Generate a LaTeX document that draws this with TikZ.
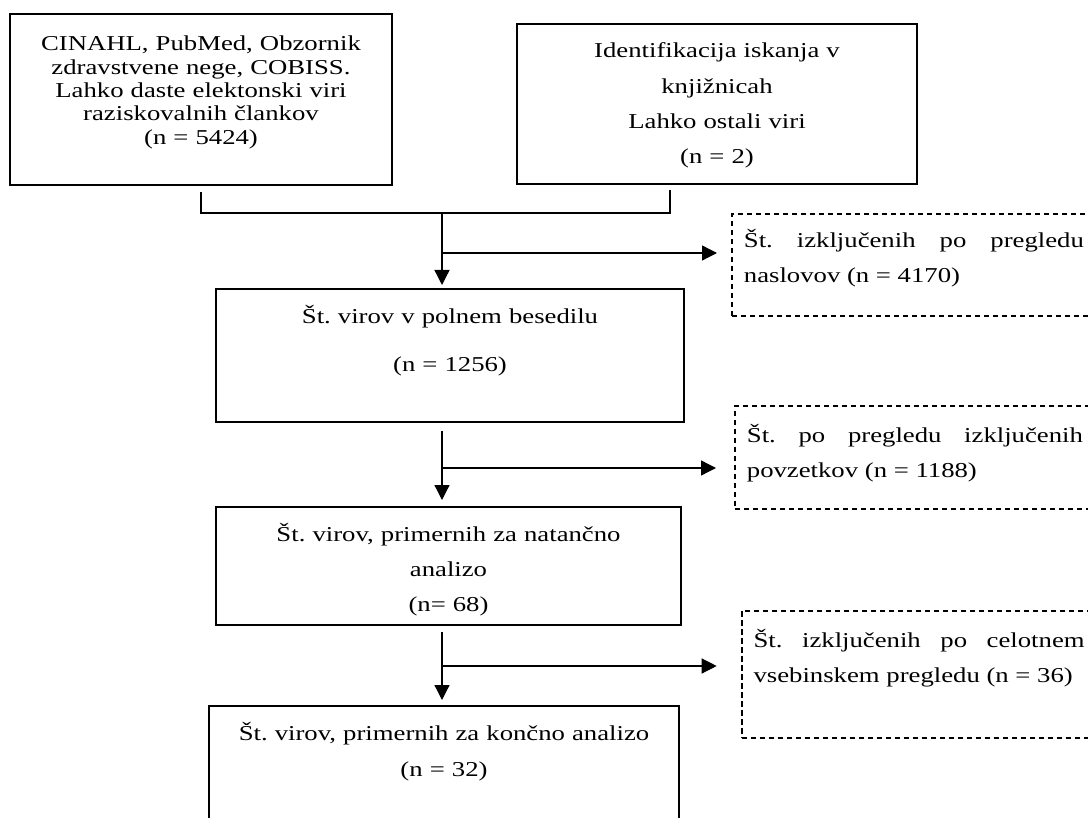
\documentclass[tikz,border=0pt]{standalone}
\usepackage{fontspec}
\setmainfont{Liberation Serif}[FakeStretch=1.26]
\usetikzlibrary{arrows.meta}
\frenchspacing

\begin{document}
\begin{tikzpicture}[
                x=0.5pt, y=-0.5pt,
                okvir/.style={draw, line width=1pt, anchor=north, inner sep=0pt, align=center},
                izklj/.style={draw, line width=0.9pt, dash pattern=on 2.7pt off 1.8pt,
                    anchor=north west, inner xsep=6pt, inner ysep=0pt, align=justify,
                    font={\fontsize{10.6pt}{17.5pt}\selectfont\frenchspacing\tolerance=10000 \hyphenpenalty=10000 }},
                vez/.style={line width=0.65pt},
                tok/.style={-{Triangle[length=7.5pt,width=7.5pt]}, line width=0.65pt},
                font=\fontsize{10.6pt}{17.5pt}\selectfont
            ]
            \useasboundingbox (0,0) rectangle (1088,818);
            \clip (0,0) rectangle (1088,818);

            % viri
            \node[okvir, text width=191pt, text height=18.5pt, text depth=67pt,
                font=\fontsize{10.6pt}{11.65pt}\selectfont] (baze) at (201,13)
                {CINAHL, PubMed, Obzornik\\ zdravstvene nege, COBISS.\\ Lahko daste elektonski viri\\ raziskovalnih člankov\\ (n = 5424)};
            \node[okvir, text width=200pt, text height=17pt, text depth=63pt,
                font=\fontsize{10.6pt}{17.65pt}\selectfont] (knjiz) at (717,23)
                {Identifikacija iskanja v\\ knjižnicah\\ Lahko ostali viri\\ (n = 2)};

            % koraki pregleda
            \node[okvir, text width=234pt, text height=17.35pt, text depth=49.15pt,
                font=\fontsize{10.6pt}{24pt}\selectfont] (polno) at (450,288)
                {Št. virov v polnem besedilu\\ (n = 1256)};
            \node[okvir, text width=232.5pt, text height=17pt, text depth=42pt] (natancno) at (448.5,506)
                {Št. virov, primernih za natančno\\ analizo\\ (n= 68)};
            \node[okvir, text width=235pt, text height=17pt, text depth=100pt,
                font=\fontsize{10.6pt}{18pt}\selectfont] (koncno) at (444,705)
                {Št. virov, primernih za končno analizo\\ (n = 32)};

            % izključeni
            \node[izklj, text width=170pt, text height=17pt, text depth=34pt] (izkl1) at (731,213)
                {Št. izključenih po pregledu\linebreak naslovov (n = 4170)};
            \node[izklj, text width=168pt, text height=18.35pt, text depth=33.15pt] (izkl2) at (734,405)
                {Št. po pregledu izključenih\linebreak povzetkov (n = 1188)};
            \node[izklj, text width=165.5pt, text height=18.35pt, text depth=45pt] (izkl3) at (740.7,610)
                {Št. izključenih po celotnem\linebreak vsebinskem pregledu (n = 36)};

            % puščice
            \coordinate (J) at (442,213);
            \coordinate (R1) at (442,253);
            \coordinate (R2) at (442,468);
            \coordinate (R3) at (442,666);
            \draw[vez] ([yshift=-3pt]baze.south) |- (J) -| ([xshift=-23.5pt,yshift=-2.5pt]knjiz.south);
            \draw[tok, shorten >=1.5pt] (J) -- (J |- polno.north);
            \draw[tok, shorten >=7pt] (R1) -- (R1 -| izkl1.west);
            \draw[tok, shorten <=4pt, shorten >=3pt] (polno.south -| J) -- (natancno.north -| J);
            \draw[tok, shorten >=9pt] (R2) -- (R2 -| izkl2.west);
            \draw[tok, shorten <=3pt, shorten >=2.5pt] (natancno.south -| J) -- (koncno.north -| J);
            \draw[tok, shorten >=12pt] (R3) -- (R3 -| izkl3.west);
        \end{tikzpicture}
\end{document}
